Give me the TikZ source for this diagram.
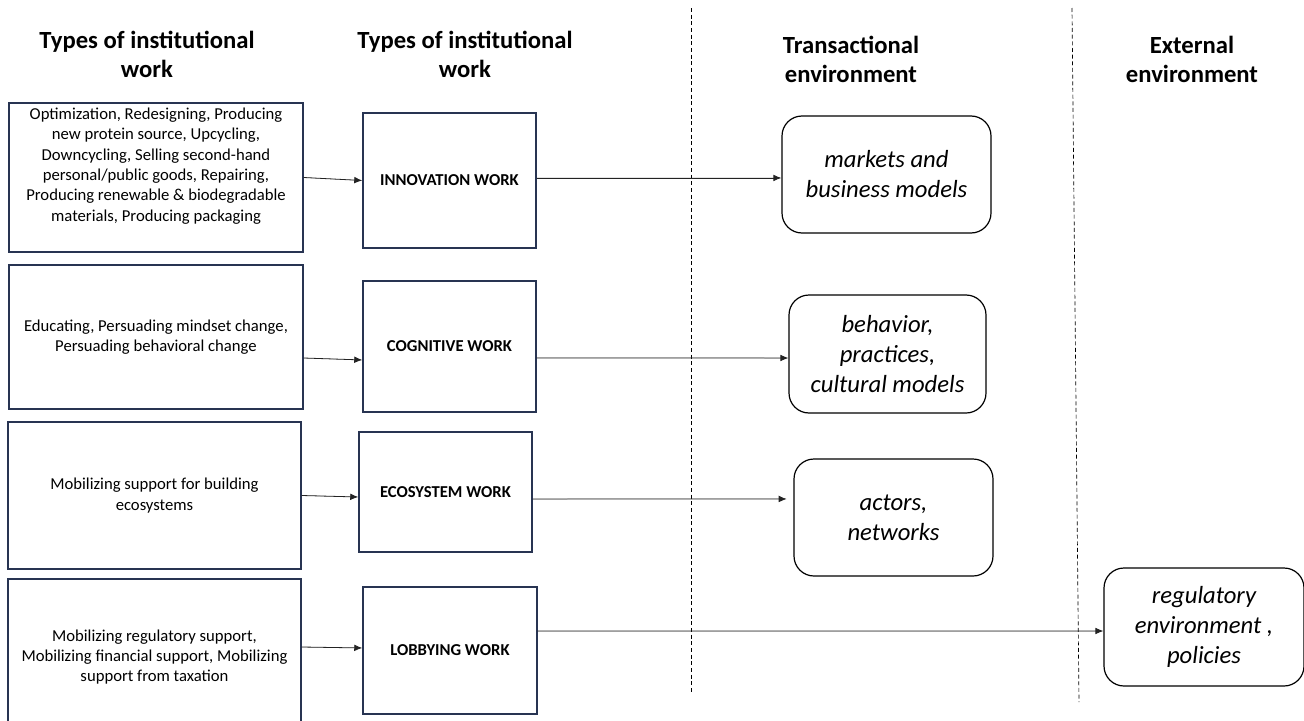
\documentclass[tikz,border=0pt]{standalone}
\usepackage{fontspec}
\setmainfont{Carlito}
\usetikzlibrary{arrows.meta}

\definecolor{boxedge}{RGB}{40,52,82}
\definecolor{arrowgray}{RGB}{35,35,35}

\begin{document}
\begin{tikzpicture}[x=0.75pt,y=-0.75pt,
  head/.style={align=center,font=\fontsize{18.5}{21.75}\selectfont\bfseries},
  acttext/.style={align=center,inner sep=0pt,font=\fontsize{12.5}{15.3}\selectfont},
  actbox/.style={acttext,draw=boxedge,line width=1.1pt},
  workbox/.style={draw=boxedge,line width=1.1pt,inner sep=0pt,font=\fontsize{12.5}{15}\selectfont\bfseries},
  envbox/.style={draw,line width=0.9pt,rounded corners=15pt,align=center,inner sep=0pt,font=\fontsize{18.5}{22.5}\selectfont\itshape},
  arr/.style={-{Latex[length=6pt,width=5pt]},line width=0.6pt,draw=arrowgray,fill=arrowgray},
  sep/.style={dash pattern=on 3pt off 2pt,line width=0.5pt}]
\useasboundingbox (0,0) rectangle (1304,721);
\clip (0,0) rectangle (1304,721);

% column headings
\node[head] (h1) at (147,54) {Types of institutional\\work};
\node[head] (h2) at (465,54) {Types of institutional\\work};
\node[head] (h3) at (851,59) {Transactional\\environment};
\node[head] (h4) at (1192,59) {External\\environment};

% separators between environments
\draw[sep] (691,8) -- (691,692);
\draw[sep] (1072,8) -- (1079,702);

% activities
\node[actbox,minimum width=220.5pt,minimum height=111.75pt] (b1) at (156,177.5) {};
\node[acttext] (t1) at (156,166) {Optimization, Redesigning, Producing\\new protein source, Upcycling,\\Downcycling, Selling second-hand\\personal/public goods, Repairing,\\Producing renewable \& biodegradable\\materials, Producing packaging};
\node[actbox,minimum width=220.5pt,minimum height=108pt] (b2) at (156,337) {Educating, Persuading mindset change,\\Persuading behavioral change};
\node[actbox,minimum width=219.75pt,minimum height=110.25pt] (b3) at (154.5,495.5) {Mobilizing support for building\\ecosystems};
\node[actbox,minimum width=219.75pt,minimum height=117pt] (b4) at (154.5,657) {Mobilizing regulatory support,\\Mobilizing financial support, Mobilizing\\support from taxation};

% types of work
\node[workbox,minimum width=129.75pt,minimum height=101.25pt] (m1) at (449.5,180.5) {INNOVATION WORK};
\node[workbox,minimum width=129.75pt,minimum height=98.25pt] (m2) at (449.5,346.5) {COGNITIVE WORK};
\node[workbox,minimum width=129.75pt,minimum height=90pt] (m3) at (445.5,492) {ECOSYSTEM WORK};
\node[workbox,minimum width=130.5pt,minimum height=95.25pt] (m4) at (450,650.5) {LOBBYING WORK};

% environments
\node[envbox,minimum width=156.75pt,minimum height=87.75pt] (r1) at (886.5,174.5) {markets and\\business models};
\node[envbox,minimum width=147.75pt,minimum height=88.5pt] (r2) at (887.5,354) {behavior,\\practices,\\cultural models};
\node[envbox,minimum width=149.25pt,minimum height=87.75pt] (r3) at (893.5,517.5) {actors,\\networks};
\node[envbox,minimum width=150pt,minimum height=88.5pt] (r4) at (1204,627) {regulatory\\environment ,\\policies};

\draw[arr] (b1.east) -- (m1.west);
\draw[arr] ([yshift=-15.75pt]b2.east) -- ([yshift=-10.1pt]m2.west);
\draw[arr] (b3.east) -- ([yshift=-3.75pt]m3.west);
\draw[arr] ([yshift=7.5pt]b4.east) -- ([yshift=1.9pt]m4.west);

\draw[arr] ([yshift=1.9pt]m1.east) -- ([yshift=-2.6pt]r1.west);
\draw[arr] ([yshift=-8.6pt]m2.east) -- ([yshift=-3pt]r2.west);
\draw[arr,shorten >=5pt] ([yshift=-5.25pt]m3.east) -- ([yshift=13.9pt]r3.west);
\draw[arr] ([yshift=14.6pt]m4.east) -- ([yshift=-3pt]r4.west);
\end{tikzpicture}
\end{document}
